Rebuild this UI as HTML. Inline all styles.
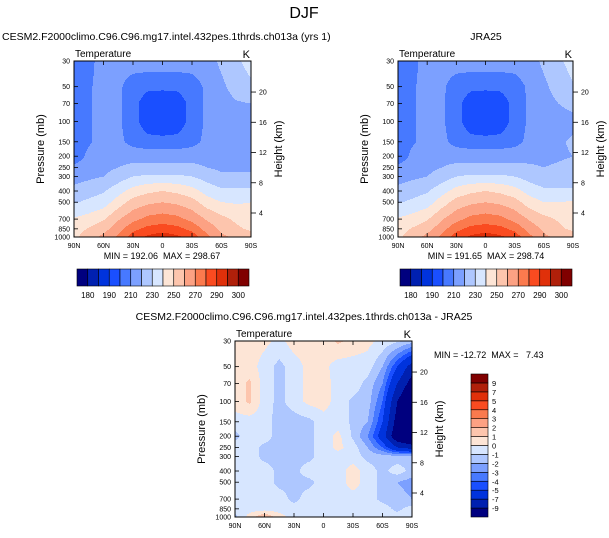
<!DOCTYPE html>
<html><head><meta charset="utf-8"><style>
body{margin:0;background:#fff;}
svg{display:block;font-family:"Liberation Sans",sans-serif;}
text{white-space:pre;}
</style></head><body>
<svg id="s" width="609" height="538" viewBox="0 0 609 538" xmlns="http://www.w3.org/2000/svg">
<text x="304" y="18" font-size="16" text-anchor="middle">DJF</text>
</svg>
<script>
const lats=['90N','75N','60N','45N','30N','15N','0','15S','30S','45S','60S','75S','90S'];
const pressures=[30,50,70,100,150,200,250,300,400,500,700,850,1000];
const pTicks=[30,50,70,100,150,200,250,300,400,500,700,850,1000];
const xTickLabels=['90N','60N','30N','0','30S','60S','90S'];
const hTicks=[4,8,12,16,20];
const tLevels=[180,185,190,200,210,220,230,240,250,260,270,280,290,295,300];
const tLabels=['180','190','210','230','250','270','290','300'];
const dLevels=[-9,-7,-5,-4,-3,-2,-1,0,1,2,3,4,5,7,9];
const dLabels=['-9','-7','-5','-4','-3','-2','-1','0','1','2','3','4','5','7','9'];
const colors=['#00007f','#0020b0','#0033dd','#1a4fff','#4779ff','#7ca0ff','#aec7ff','#d7e6ff','#fde5d6','#fdc5ad','#fca183','#fb7a4e','#fa4b20','#e0300a','#b0200a','#800000'];
const modelT=[
[205,208,213,214,215,216,216,216,215,216,222,228,234],
[205,209,213,212,205,202,202,202,205,212,218,224,228],
[205,209,213,212,203,195,193,195,203,212,216,219,220],
[205,209,213,212,203,195,193,195,203,212,214,215,215],
[206,209,213,213,206,203,203,203,206,213,217,217,218],
[205,212,215,217,217,217,217,217,217,217,216,216,216],
[212,214,217,220,222,222,222,222,222,220,218,218,218],
[216,218,220,225,230,232,232,232,230,226,222,222,222],
[223,226,229,236,244,248,250,248,244,236,232,232,232],
[229,232,235,245,254,258,260,258,254,245,240,239,240],
[241,244,249,259,267,273,275,273,267,259,253,248,245],
[245,251,256,266,277,283,285,283,277,266,258,252,248],
[248,255,263,272,285,292,296,292,286,273,262,258,255]];
const obsT=[
[205,208,213,214,215,216,216,216,215,216,222,228,234],
[205,209,213,212,205,202,202,202,205,212,218,224,229],
[205,209,213,212,203,195,193,195,203,212,216,220,222],
[205,209,213,212,203,195,193,195,203,212,215,217,218],
[206,209,213,213,206,203,203,203,206,213,218,219,221],
[205,212,215,217,217,217,217,217,217,218,218,219,220],
[212,214,217,220,222,222,222,222,222,221,220,221,222],
[216,218,220,225,230,232,232,232,230,226,223,223,223],
[223,226,229,236,244,248,250,248,244,236,232,232,232],
[229,232,235,245,254,258,260,258,254,245,240,240,241],
[241,244,249,259,267,273,275,273,267,259,253,249,246],
[245,251,256,266,277,283,285,283,277,266,258,252,248],
[248,255,263,272,285,292,296,292,286,273,262,258,255]];
const diffT=[
[0.5,0.5,0.3,-0.3,0.5,0.5,0.5,1.2,0.7,0.3,-0.3,-0.8,-1.5],
[0.3,0.5,-0.5,-1.3,-0.5,0.3,0.3,-0.5,-0.5,-0.5,-2,-5,-8],
[0.5,1.2,-0.5,-1.3,-0.5,0.3,0.5,-0.5,-0.5,-1.3,-3,-7,-10],
[0.5,1.2,-0.5,-1.3,-0.5,0.3,0.5,-0.5,-1.2,-1.5,-4,-9,-12],
[-0.5,-0.5,-0.5,-1.5,-1.5,-1.3,-0.5,-0.5,-1.2,-2,-5,-10,-12],
[-1.3,-0.5,-0.5,-1.5,-1.5,-1.3,-0.5,0.3,-1.2,-3,-6,-11,-12],
[-0.5,-0.5,-1.3,-1.3,-1.3,-1.3,-0.5,0.3,-0.5,-2,-4,-7,-8],
[-0.5,-0.5,-1.3,-1.3,-1.3,-1.3,-0.5,-0.5,-0.5,-1.3,-1.5,-1.5,-1.5],
[-0.5,-0.5,-0.5,-1.3,-1.3,-0.5,-0.5,-0.5,0.5,-0.5,-1.3,-0.5,-1.3],
[-0.5,-0.5,-0.5,-1.3,-1.3,-1.3,-0.5,-0.5,0.5,-0.5,-1.3,-2,-2.5],
[-0.5,-0.5,-0.5,-0.5,-1.3,-0.5,-0.5,-0.5,-0.5,-0.5,-1.3,-1.5,-2],
[-0.5,-0.5,-0.5,-0.5,-0.5,-0.5,-0.5,-0.5,-0.5,-0.5,-0.5,-1.3,-0.5],
[-1.3,0.5,2,0.5,-0.5,-0.5,-0.5,-0.5,-0.5,-0.5,-0.5,-0.5,-0.5]];

const NS='http://www.w3.org/2000/svg';
const svg=document.getElementById('s');
function mk(tag,attrs,parent){const e=document.createElementNS(NS,tag);for(const k in attrs)e.setAttribute(k,attrs[k]);(parent||svg).appendChild(e);return e;}
function txt(x,y,s,size,anchor,parent,name){const t=mk('text',{x:x,y:y,'font-size':size,'text-anchor':anchor||'start'},parent);t.textContent=s;


return t;}
function colorIdx(v,levels){let i=0;while(i<levels.length&&v>=levels[i])i++;return i;}
function sample(data,fx,p){
  const lp=Math.log(p);let r=0;
  while(r<pressures.length-2&&lp>Math.log(pressures[r+1]))r++;
  let ty=(lp-Math.log(pressures[r]))/(Math.log(pressures[r+1])-Math.log(pressures[r]));
  ty=Math.max(0,Math.min(1,ty));
  let c=Math.min(Math.floor(fx),lats.length-2);let tx=fx-c;
  const a=data[r][c],b=data[r][c+1],d=data[r+1][c],e=data[r+1][c+1];
  return (a*(1-tx)+b*tx)*(1-ty)+(d*(1-tx)+e*tx)*ty;
}
function panel(name,ox,oy,w,h,data,levels){
  const g=mk('g',{});
  
  
  const L=Math.log(1000/30);
  const yOf=p=>oy+h*Math.log(p/30)/L;
  for(let py=0;py<h;py++){
    const p=30*Math.exp((py+0.5)/h*L);
    let runStart=0,runC=-1;
    for(let px=0;px<=w;px++){
      let ci=-2;
      if(px<w){const fx=(px+0.5)/w*(lats.length-1);ci=colorIdx(sample(data,fx,p),levels);}
      if(ci!==runC){
        if(runC>=0){const r=mk('rect',{x:ox+runStart,y:oy+py,width:px-runStart,height:1.05,fill:colors[runC]},g);
          
          }
        runStart=px;runC=ci;
      }
    }
  }
  mk('rect',{x:ox,y:oy,width:w,height:h,fill:'none',stroke:'#000','stroke-width':1},g);
  pTicks.forEach(p=>{const y=yOf(p);mk('line',{x1:ox,x2:ox+4,y1:y,y2:y,stroke:'#000','stroke-width':0.8},g);
    txt(ox-4,y+2.5,String(p),7,'end',g,'pressure-tick-label');});
  xTickLabels.forEach((s,i)=>{const x=ox+w*i/6;mk('line',{x1:x,x2:x,y1:oy+h,y2:oy+h-4,stroke:'#000','stroke-width':0.8},g);
    mk('line',{x1:x,x2:x,y1:oy,y2:oy+4,stroke:'#000','stroke-width':0.8},g);
    txt(x,oy+h+11,s,7,'middle',g,'lat-tick-label');});
  hTicks.forEach(z=>{const y=oy+h*(152/176)-(z-4)*7.56*h/176;mk('line',{x1:ox+w,x2:ox+w+5,y1:y,y2:y,stroke:'#000','stroke-width':0.8},g);
    txt(ox+w+8,y+2.5,String(z),7,'start',g,'height-tick-label');});
  txt(ox+1,oy-4,'Temperature',10,'start',g,'panel-variable');
  txt(ox+w-1,oy-3,'K',11,'end',g,'units-label');
  const t1=txt(0,0,'Pressure (mb)',11,'middle',g,'y-axis-title');t1.setAttribute('transform',`translate(${ox-30},${oy+h/2}) rotate(-90)`);
  const t2=txt(0,0,'Height (km)',11,'middle',g,'right-axis-title');t2.setAttribute('transform',`translate(${ox+w+31},${oy+h/2}) rotate(-90)`);
}
function hbar(name,x,y,w,h,labels){
  const g=mk('g',{});
  
  
  const bw=w/16;
  colors.forEach((c,i)=>{const r=mk('rect',{x:x+i*bw,y:y,width:bw,height:h,fill:c,stroke:'#000','stroke-width':0.6},g);
    
    });
  labels.forEach((s,i)=>txt(x+bw*(1+2*i),y+h+12,s,8,'middle',g,'colorbar-label'));
}
panel('model-panel',74,61,177,176,modelT,tLevels);
panel('obs-panel',398,61,175,176,obsT,tLevels);
panel('diff-panel',235,341,177,176,diffT,dLevels);
txt(2,40,'CESM2.F2000climo.C96.C96.mg17.intel.432pes.1thrds.ch013a (yrs 1)',10.5,'start',svg,'model-title');
txt(486,40,'JRA25',10.5,'middle',svg,'obs-title');
txt(304,320,'CESM2.F2000climo.C96.C96.mg17.intel.432pes.1thrds.ch013a - JRA25',10.5,'middle',svg,'diff-title');
txt(162,259,'MIN = 192.06  MAX = 298.67',9,'middle',svg,'model-minmax');
txt(486,259,'MIN = 191.65  MAX = 298.74',9,'middle',svg,'obs-minmax');
txt(434,358,'MIN = -12.72  MAX =   7.43',9,'start',svg,'diff-minmax');
hbar('model-colorbar',77,269,172,17,tLabels);
hbar('obs-colorbar',400,269,172,17,tLabels);
(function(){
  const g=mk('g',{});
  
  
  const x=471,y=374,w=17,h=143,bh=h/16;
  colors.forEach((c,i)=>{const r=mk('rect',{x:x,y:y+h-(i+1)*bh,width:w,height:bh,fill:c,stroke:'#000','stroke-width':0.6},g);
    
    });
  dLabels.forEach((s,i)=>txt(x+w+4,y+h-(i+1)*bh+3,s,7.5,'start',g,'colorbar-label'));
})();
</script>
</body></html>
